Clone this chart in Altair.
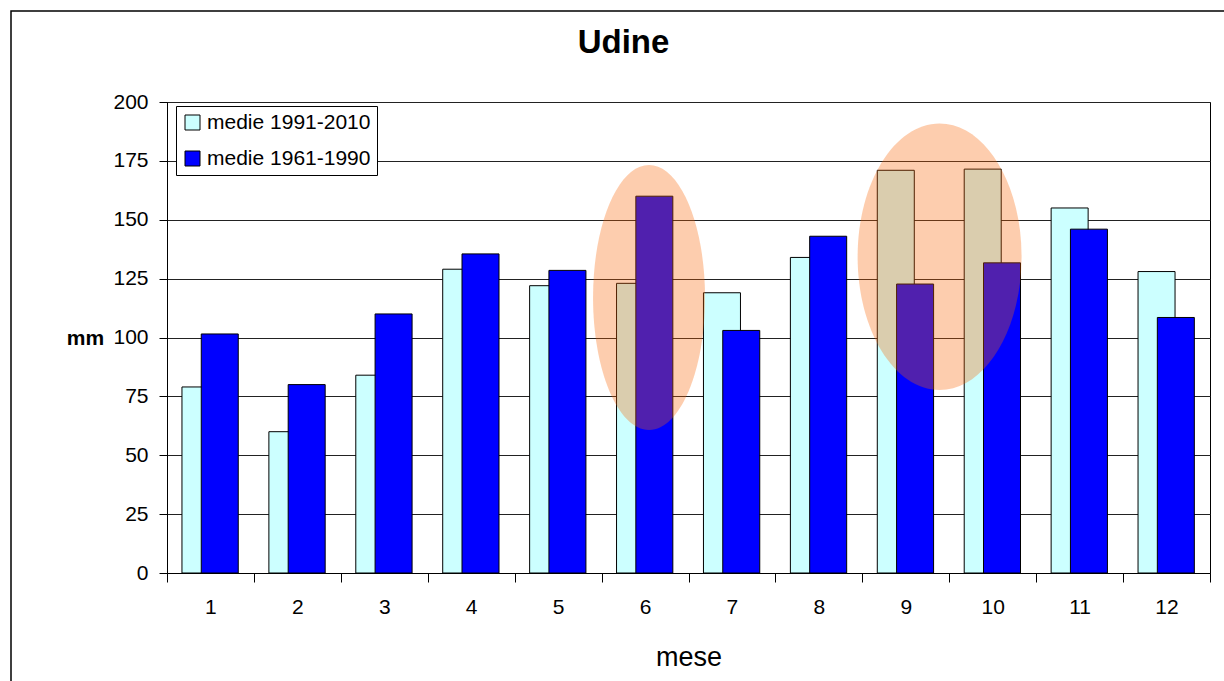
import altair as alt
import pandas as pd

# ---- data ----
mesi = [1, 2, 3, 4, 5, 6, 7, 8, 9, 10, 11, 12]
medie_1991_2010 = [79, 60, 84, 129, 122, 123, 119, 134, 171, 171.5, 155, 128]
medie_1961_1990 = [101.5, 80, 110, 135.5, 128.5, 160, 103, 143, 122.7, 131.7, 146, 108.5]
serie = ["medie 1991-2010", "medie 1961-1990"]
colori = ["#CCFFFF", "#0000FF"]
y_ticks = [0, 25, 50, 75, 100, 125, 150, 175, 200]

# highlighted areas (orange ellipses): month anchor and centre value
evid_mese = [6, 9]
evid_mm = [117, 134.3]

rows = []
for m, v in zip(mesi, medie_1991_2010):
    rows.append({"mese": m, "mm": v, "serie": serie[0]})
for m, v in zip(mesi, medie_1961_1990):
    rows.append({"mese": m, "mm": v, "serie": serie[1]})
df = pd.DataFrame(rows)

FONT = "Liberation Sans"
HALF_BAND = 1043 / 12 / 2

def x_enc():
    return alt.X(
        "mese:O",
        scale=alt.Scale(paddingInner=0, paddingOuter=0),
        axis=alt.Axis(
            title="mese", tickBand="extent", labelAngle=0, grid=False,
            tickSize=9, labelPadding=14, labelFontSize=21, titleFontSize=27,
            titleFontWeight="normal", titlePadding=27, domainColor="black",
            tickColor="black", labelColor="black", titleColor="black",
            labelFont=FONT, titleFont=FONT,
        ),
    )

def y_enc():
    return alt.Y(
        "mm:Q",
        scale=alt.Scale(domain=[0, 200], nice=False),
        axis=alt.Axis(
            title="mm", values=y_ticks, grid=True, gridColor="#222",
            gridOpacity=1, tickSize=8, labelPadding=11, labelFontSize=21,
            titleAngle=0, titleFontWeight="bold", titleFontSize=21,
            titleX=-82, titleY=236, titleAlign="center", titleBaseline="middle",
            domainColor="black", tickColor="black", labelColor="black",
            titleColor="black", labelFont=FONT, titleFont=FONT,
        ),
    )

color = alt.Color(
    "serie:N",
    scale=alt.Scale(domain=serie, range=colori),
    legend=alt.Legend(title=None),
)

frame = alt.Chart(pd.DataFrame({"k": [0]})).mark_rect(
    filled=False, stroke="black", strokeWidth=1.5
).encode(
    x=alt.value(-156), x2=alt.value(1300), y=alt.value(-91), y2=alt.value(700)
)

base = alt.Chart(df)
light = base.transform_filter(alt.datum.serie == serie[0]).mark_bar(
    width=37, stroke="black", strokeWidth=1
).encode(x=x_enc(), y=y_enc(), color=color, xOffset=alt.value(HALF_BAND - 10))
dark = base.transform_filter(alt.datum.serie == serie[1]).mark_bar(
    width=37, stroke="black", strokeWidth=1
).encode(x=x_enc(), y=y_enc(), color=color, xOffset=alt.value(HALF_BAND + 9.3))

path_a = "M0,-0.994 A0.42,0.994 0 1,1 0,0.994 A0.42,0.994 0 1,1 0,-0.994 Z"
path_b = "M0,-1 A0.615,1 0 1,1 0,1 A0.615,1 0 1,1 0,-1 Z"

def ellipse(i, path, dx):
    d = pd.DataFrame({"mese": [evid_mese[i]], "mm": [evid_mm[i]]})
    return alt.Chart(d).mark_point(
        filled=True, color="#F86203", opacity=0.32, strokeWidth=0,
        size=71075, shape=path
    ).encode(x=x_enc(), y=y_enc(), xOffset=alt.value(HALF_BAND + dx))

ell_a = ellipse(0, path_a, 4)
ell_b = ellipse(1, path_b, 33.8)

chart = alt.layer(frame, light, dark, ell_a, ell_b).properties(
    width=1043, height=471,
    title=alt.TitleParams("Udine", fontSize=33, fontWeight="bold", font=FONT,
                          anchor="middle", dx=-65, offset=-76, baseline="alphabetic",
                          color="black"),
    autosize=alt.AutoSizeParams(type="none"),
    padding={"left": 167, "top": 102, "right": 14, "bottom": 108},
).configure(
    font=FONT, background="white"
).configure_view(
    stroke="black", strokeWidth=1
).configure_legend(
    orient="none", legendX=9, legendY=4, fillColor="white", strokeColor="black",
    strokeWidth=1, padding=6, cornerRadius=0, symbolType="square", symbolSize=225,
    symbolStrokeColor="black", symbolStrokeWidth=1, symbolOpacity=1,
    labelFontSize=21, labelFont=FONT, labelColor="black", rowPadding=14,
    labelOffset=4, labelLimit=400,
)

chart.save("out.html", embed_options={"renderer": "svg", "actions": False})
